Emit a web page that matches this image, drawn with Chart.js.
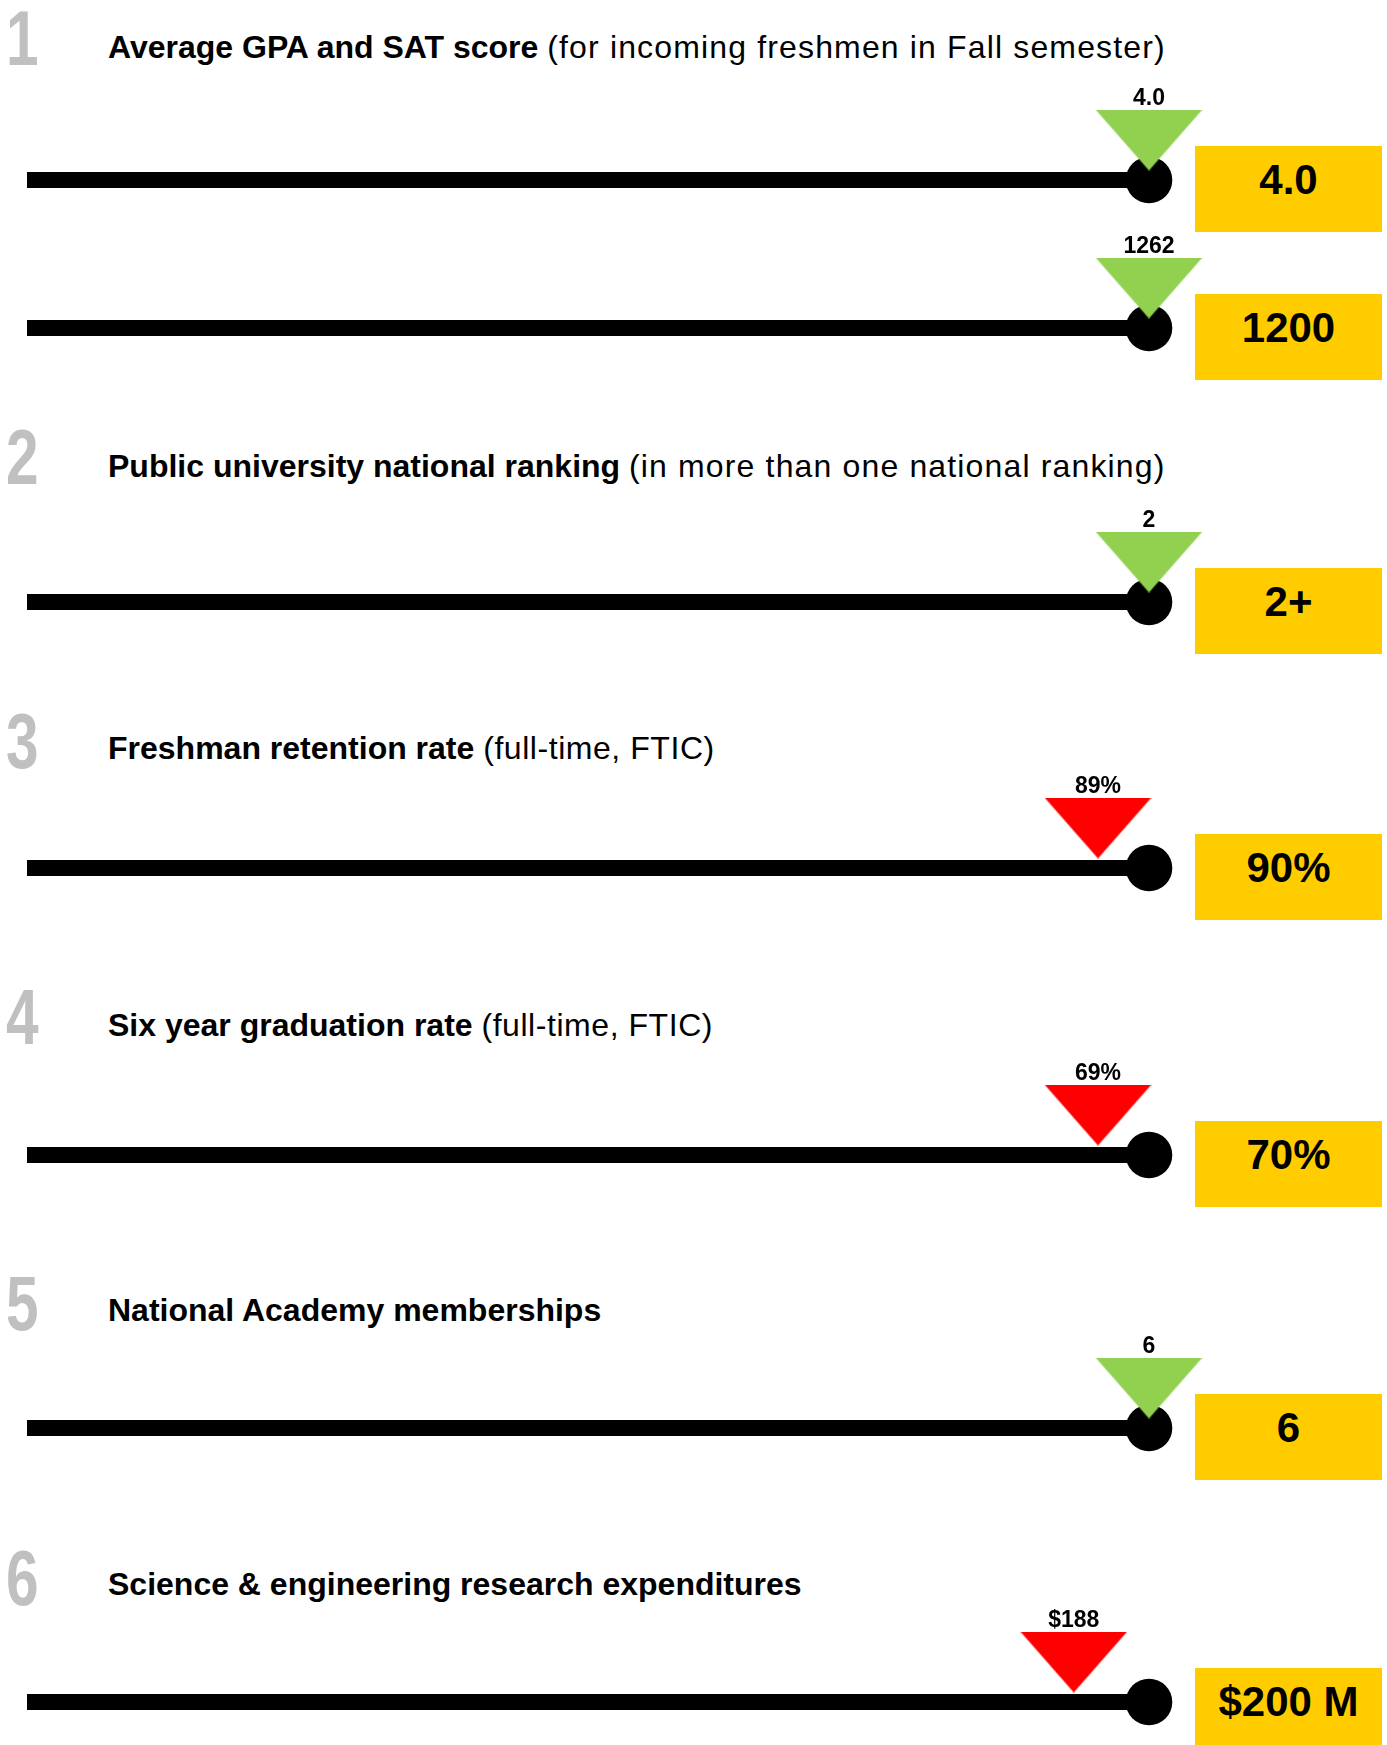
<!DOCTYPE html>
<html><head><meta charset="utf-8">
<script src="https://cdn.jsdelivr.net/npm/chart.js@4"></script>
<style>
html,body{margin:0;padding:0;background:#fff;}
#page{position:relative;width:1387px;height:1745px;overflow:hidden;font-family:"Liberation Sans",Arial,Helvetica,sans-serif;}
.num{position:absolute;left:6px;font-weight:bold;font-size:78px;line-height:78px;color:#c0c0c0;transform:scaleX(0.75);transform-origin:0 0;}
.title{position:absolute;left:108px;font-size:32px;line-height:32px;color:#000;white-space:nowrap;}
.box{position:absolute;left:1195px;width:187px;height:86px;background:#FFCC00;}
.box div{height:68px;line-height:68px;text-align:center;font-weight:bold;font-size:42px;color:#000;}
canvas.row{position:absolute;left:0;}
</style></head><body><div id="page"></div>
<script>
// ---- data ----
const sectionNumbers = ['1', '2', '3', '4', '5', '6'];
const sectionTitles = ['Average GPA and SAT score', 'Public university national ranking', 'Freshman retention rate', 'Six year graduation rate', 'National Academy memberships', 'Science & engineering research expenditures'];
const sectionNotes = ['(for incoming freshmen in Fall semester)', '(in more than one national ranking)', '(full-time, FTIC)', '(full-time, FTIC)', '', ''];
const rowSection = [0, 0, 1, 2, 3, 4, 5];
const actualValues = [4.0, 1262, 2, 89, 69, 6, 188];
const targetValues = [4.0, 1200, 2, 90, 70, 6, 200];
const actualLabels = ['4.0', '1262', '2', '89%', '69%', '6', '$188'];
const targetLabels = ['4.0', '1200', '2+', '90%', '70%', '6', '$200 M'];
const scaleStart = [0, 0, 0, 68, 48, 0, 21];

// ---- layout ----
const titleBaseline = [58.5, 477, 758.7, 1035.8, 1320.8, 1594.7];
const noteSpacing = [1.15, 1.15, 0.55, 0.55, 0, 0];
const numberCapTop = [9, 428.6, 712, 988.5, 1274.6, 1549.6];
const rowLineY = [180, 328, 602, 868, 1155, 1428, 1702];
const FONT = '"Liberation Sans", Arial, Helvetica, sans-serif';

const page = document.getElementById('page');

sectionNumbers.forEach((n, i) => {
  const d = document.createElement('div');
  d.className = 'num';
  d.textContent = n;
  d.style.top = (numberCapTop[i] - 10.2) + 'px';
  page.appendChild(d);
  const t = document.createElement('div');
  t.className = 'title';
  const b = document.createElement('b');
  b.textContent = sectionTitles[i];
  t.appendChild(b);
  if (sectionNotes[i]) {
    t.appendChild(document.createTextNode(' '));
    const s = document.createElement('span');
    s.textContent = sectionNotes[i];
    s.style.letterSpacing = noteSpacing[i] + 'px';
    t.appendChild(s);
  }
  t.style.top = (titleBaseline[i] - 27.1) + 'px';
  page.appendChild(t);
});

function makeTriangle(color) {
  const c = document.createElement('canvas');
  c.width = 107; c.height = 61;
  const g = c.getContext('2d');
  g.fillStyle = color;
  g.beginPath();
  g.moveTo(0, 0); g.lineTo(107, 0); g.lineTo(53.5, 61); g.closePath();
  g.fill();
  return c;
}
const triGreen = makeTriangle('#92D050');
const triRed = makeTriangle('#FF0000');

const valueLabelPlugin = {
  id: 'valueLabel',
  afterDatasetsDraw(chart, args, opts) {
    const pt = chart.getDatasetMeta(2).data[0];
    const ctx = chart.ctx;
    ctx.save();
    ctx.font = 'bold 23px ' + FONT;
    ctx.fillStyle = '#000';
    ctx.textAlign = 'center';
    ctx.textBaseline = 'middle';
    ctx.fillText(opts.text, pt.x, pt.y - 41);
    ctx.restore();
  }
};

const CW = 1240, CH = 150;
actualValues.forEach((actual, i) => {
  const target = targetValues[i];
  const met = actual >= target;
  const cv = document.createElement('canvas');
  cv.className = 'row';
  cv.width = CW; cv.height = CH;
  cv.style.width = CW + 'px'; cv.style.height = CH + 'px';
  cv.style.top = (rowLineY[i] - 100) + 'px';
  page.appendChild(cv);

  new Chart(cv, {
    type: 'scatter',
    data: {
      datasets: [
        { data: [{ x: scaleStart[i], y: 0 }, { x: target, y: 0 }], showLine: true, borderColor: '#000', borderWidth: 16, borderCapStyle: 'butt', pointRadius: 0, clip: false, order: 2 },
        { data: [{ x: target, y: 0 }], pointRadius: 23.3, backgroundColor: '#000', borderWidth: 0, clip: false, order: 1 },
        { data: [{ x: Math.min(actual, target), y: 1 }], pointStyle: met ? triGreen : triRed, pointRadius: 30, clip: false, order: 0 }
      ]
    },
    options: {
      responsive: false, animation: false, events: [],
      layout: { autoPadding: false, padding: { left: 27, right: CW - 1149, top: 0, bottom: 0 } },
      scales: {
        x: { type: 'linear', min: scaleStart[i], max: target, display: false },
        y: { type: 'linear', min: -1.25, max: 2.5, display: false }
      },
      plugins: { legend: { display: false }, tooltip: { enabled: false }, valueLabel: { text: actualLabels[i] } }
    },
    plugins: [valueLabelPlugin]
  });

  const box = document.createElement('div');
  box.className = 'box';
  box.style.top = (rowLineY[i] - 34) + 'px';
  const inner = document.createElement('div');
  inner.textContent = targetLabels[i];
  box.appendChild(inner);
  page.appendChild(box);
});
</script></body></html>
